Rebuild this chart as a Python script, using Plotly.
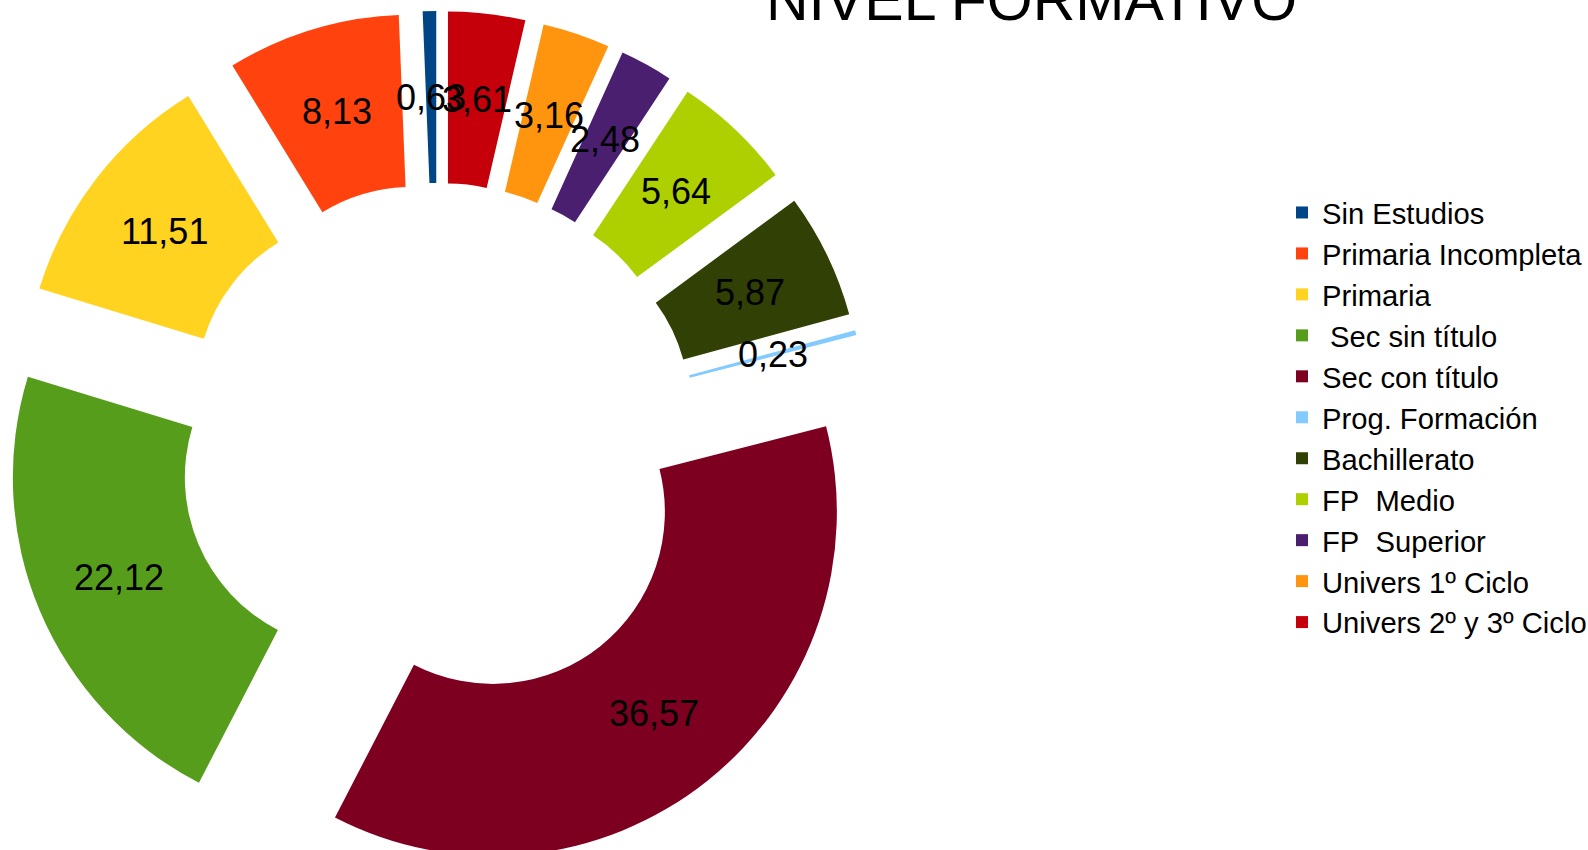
import math
import plotly.graph_objects as go

# chart data (percentages)
categories = [
    "Sin Estudios",
    "Primaria Incompleta",
    "Primaria",
    "\u00a0Sec sin título",
    "Sec con título",
    "Prog. Formación",
    "Bachillerato",
    "FP\u00a0\u00a0Medio",
    "FP\u00a0\u00a0Superior",
    "Univers 1º Ciclo",
    "Univers 2º y 3º Ciclo",
]
values = [0.63, 8.13, 11.51, 22.12, 36.57, 0.23, 5.87, 5.64, 2.48, 3.16, 3.61]
colors = [
    "#004586", "#ff420e", "#ffd320", "#579d1c", "#7e0021", "#83caff",
    "#314004", "#aecf00", "#4b1f6f", "#ff950e", "#c5000b",
]
value_labels = [f"{v:.2f}".replace(".", ",") for v in values]

# geometry of the exploded donut (pixels)
W, H = 1588, 900
CX, CY = 438, 443
R = 344
HOLE = 0.5
PULL = 0.256
FONT = "Liberation Sans"

total = sum(values)
half = R * (1 + PULL)
dom_x = [(CX - half) / W, (CX + half) / W]
dom_y = [1 - (CY + half) / H, 1 - (CY - half) / H]

# plotly puts the first slice clockwise of 12 o'clock when going
# counterclockwise; turn it back so it starts at 12 o'clock instead
rotation = -values[0] / total * 360

fig = go.Figure(
    go.Pie(
        labels=categories,
        values=values,
        hole=HOLE,
        pull=[PULL] * len(values),
        sort=False,
        direction="counterclockwise",
        rotation=rotation,
        marker=dict(colors=colors, line=dict(width=0)),
        textinfo="none",
        hoverinfo="label+value",
        domain=dict(x=dom_x, y=dom_y),
    )
)

# value labels at the middle of each ring segment
label_r = R * PULL + R * (1 + HOLE) / 2
annotations = []
cum = 0.0
for v, txt in zip(values, value_labels):
    mid = (cum + v / 2) / total * 2 * math.pi
    cum += v
    px = CX - label_r * math.sin(mid)
    py = CY - label_r * math.cos(mid)
    annotations.append(dict(
        x=px / W, y=1 - py / H, xref="paper", yref="paper",
        text=txt, showarrow=False, xanchor="center", yanchor="middle",
        font=dict(family=FONT, size=36, color="black"),
    ))

# title, partly cut off at the top edge
annotations.append(dict(
    x=1031.5 / W, y=1.0, xref="paper", yref="paper",
    text="NIVEL FORMATIVO", showarrow=False,
    xanchor="center", yanchor="middle",
    font=dict(family=FONT, size=59, color="black"),
))

fig.update_layout(
    width=W,
    height=H,
    margin=dict(l=0, r=0, t=0, b=0, autoexpand=False),
    paper_bgcolor="white",
    plot_bgcolor="white",
    annotations=annotations,
    showlegend=True,
    legend=dict(
        x=1282 / W, y=1 - 187 / H, xanchor="left", yanchor="top",
        font=dict(family=FONT, size=29.2, color="black"),
        bgcolor="rgba(0,0,0,0)",
        traceorder="normal",
    ),
)

fig.write_html(
    "out.html",
    config={"displayModeBar": False},
    post_script="document.body.style.margin='0';"
                "document.body.style.overflow='hidden';"
                "document.documentElement.style.overflow='hidden';",
)
